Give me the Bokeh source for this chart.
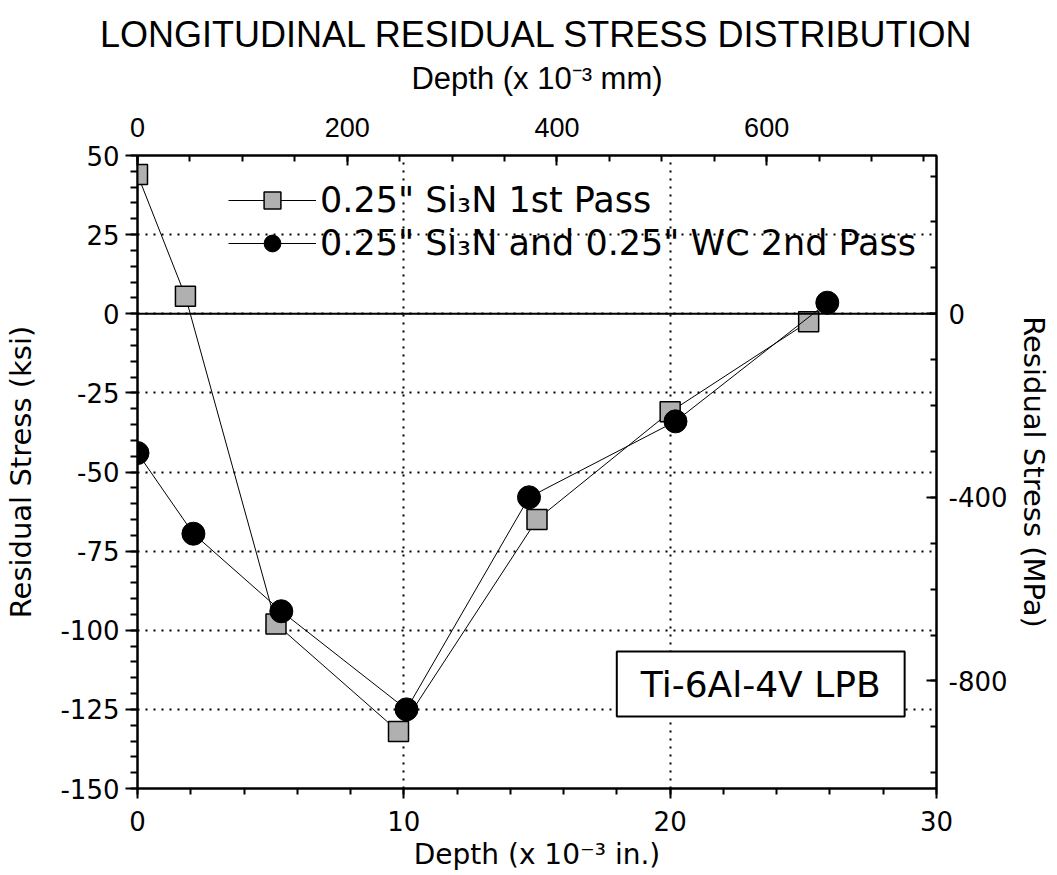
from bokeh.plotting import figure
from bokeh.models import (Range1d, LinearAxis, FixedTicker, Legend, LegendItem,
                          Label, Span)
from bokeh.embed import file_html
from bokeh.resources import INLINE

# ---- data (depth in 1e-3 in., stress in ksi) ----
pass1_depth = [0.0, 1.8, 5.2, 9.8, 15.0, 20.0, 25.2]
pass1_stress = [44.0, 5.5, -98.0, -132.0, -65.0, -31.0, -2.5]
pass2_depth = [0.0, 2.1, 5.4, 10.1, 14.7, 20.2, 25.9]
pass2_stress = [-44.0, -69.5, -94.0, -125.0, -58.0, -34.0, 3.5]

pass1_label = '0.25" Si\u2083N 1st Pass'
pass2_label = '0.25" Si\u2083N and 0.25" WC 2nd Pass'
note_text = "Ti-6Al-4V LPB"

x_ticks_in = [0, 10, 20, 30]
x_minor_in = list(range(0, 31, 2))
x_ticks_mm = [0, 200, 400, 600]
x_minor_mm = list(range(0, 751, 50))
y_ticks_ksi = [-150, -125, -100, -75, -50, -25, 0, 25, 50]
y_minor_ksi = list(range(-150, 51, 5))
y_ticks_mpa = [-800, -400, 0]
y_minor_mpa = list(range(-1000, 301, 100))

X_MIN, X_MAX = 0, 30
Y_MIN, Y_MAX = -150, 50
IN_TO_MM = 25.4       # 1e-3 in -> 1e-3 mm
KSI_TO_MPA = 6.895

FONT = "DejaVu Sans"
SANS = "Liberation Sans"

p = figure(frame_width=799, frame_height=633,
           min_border_left=137, min_border_right=113,
           min_border_top=155, min_border_bottom=80,
           x_range=Range1d(X_MIN, X_MAX), y_range=Range1d(Y_MIN, Y_MAX),
           x_axis_location=None, y_axis_location=None,
           output_backend="svg", toolbar_location=None)
p.extra_x_ranges = {"mm": Range1d(X_MIN * IN_TO_MM, X_MAX * IN_TO_MM)}
p.extra_y_ranges = {"mpa": Range1d(Y_MIN * KSI_TO_MPA, Y_MAX * KSI_TO_MPA)}

p.title.text = "LONGITUDINAL RESIDUAL STRESS DISTRIBUTION"
p.title.align = "center"
p.title.text_font = SANS
p.title.text_font_size = "36px"
p.title.text_font_style = "normal"
p.title.text_color = "black"
p.title.standoff = 5

p.outline_line_color = "black"
p.outline_line_width = 2
p.background_fill_color = "white"
p.border_fill_color = "white"


def style_axis(ax, font, tsize, lsize, label, tick_in, tick_out, mtick_in,
               mtick_out, lstand, astand, ticks):
    ax.axis_label = label
    ax.axis_label_text_font = font
    ax.axis_label_text_font_size = lsize
    ax.axis_label_text_font_style = "normal"
    ax.axis_label_text_color = "black"
    ax.major_label_text_font = font
    ax.major_label_text_font_size = tsize
    ax.major_label_text_color = "black"
    ax.major_label_overrides = {t: str(t) for t in ticks}
    ax.axis_line_color = "black"
    ax.axis_line_width = 2
    ax.major_tick_line_color = "black"
    ax.major_tick_line_width = 2
    ax.minor_tick_line_color = "black"
    ax.minor_tick_line_width = 2
    ax.major_tick_in = tick_in
    ax.major_tick_out = tick_out
    ax.minor_tick_in = mtick_in
    ax.minor_tick_out = mtick_out
    ax.major_label_standoff = lstand
    ax.axis_label_standoff = astand


bottom = LinearAxis(ticker=FixedTicker(ticks=x_ticks_in, minor_ticks=x_minor_in))
style_axis(bottom, FONT, "26px", "28px", "Depth (x 10\u207b\u00b3 in.)",
           0, 10, 0, 6, 12, 4, x_ticks_in)
p.add_layout(bottom, "below")

left = LinearAxis(ticker=FixedTicker(ticks=y_ticks_ksi, minor_ticks=y_minor_ksi))
style_axis(left, FONT, "26px", "29px", "Residual Stress (ksi)",
           0, 12, 0, 7, 6, 19, y_ticks_ksi)
p.add_layout(left, "left")

top = LinearAxis(x_range_name="mm",
                 ticker=FixedTicker(ticks=x_ticks_mm, minor_ticks=x_minor_mm))
style_axis(top, SANS, "27px", "31px", "Depth (x 10\u207b\u00b3 mm)",
           10, 0, 6, 0, 19, 19, x_ticks_mm)
p.add_layout(top, "above")

right = LinearAxis(y_range_name="mpa",
                   ticker=FixedTicker(ticks=y_ticks_mpa, minor_ticks=y_minor_mpa))
style_axis(right, FONT, "26px", "29px", "Residual Stress (MPa)",
           10, 0, 6, 0, 12, 6, y_ticks_mpa)
p.add_layout(right, "right")

# grid
p.xgrid.ticker = FixedTicker(ticks=x_ticks_in)
p.ygrid.ticker = FixedTicker(ticks=y_ticks_ksi)
for g in (p.xgrid, p.ygrid):
    g.grid_line_color = "black"
    g.grid_line_width = 2
    g.grid_line_dash = "2 6"

p.add_layout(Span(location=0, dimension="width", line_color="black", line_width=2))

l1 = p.line(pass1_depth, pass1_stress, line_color="black", line_width=1)
s1 = p.scatter(pass1_depth, pass1_stress, marker="square", size=20,
               fill_color="#b0b0b0", line_color="black", line_width=1.5)
l2 = p.line(pass2_depth, pass2_stress, line_color="black", line_width=1)
s2 = p.scatter(pass2_depth, pass2_stress, marker="circle", size=23,
               fill_color="black", line_color="black")

legend = Legend(items=[LegendItem(label=pass1_label, renderers=[l1, s1]),
                       LegendItem(label=pass2_label, renderers=[l2, s2])],
                location=(91, 524), glyph_width=88, glyph_height=42,
                label_standoff=4, spacing=1, padding=0, margin=0,
                label_text_font=FONT, label_text_font_size="35px",
                label_text_color="black",
                background_fill_alpha=0, border_line_alpha=0)
p.add_layout(legend)

note = Label(x=23.4, y=-117, text=note_text, text_align="center",
             text_baseline="middle", text_font=FONT, text_font_size="36px",
             text_color="black", background_fill_color="white",
             border_line_color="black", border_line_width=2,
             padding=dict(left=24, right=24, top=12, bottom=12))
p.add_layout(note)

open("out.html", "w").write(file_html(p, INLINE))
